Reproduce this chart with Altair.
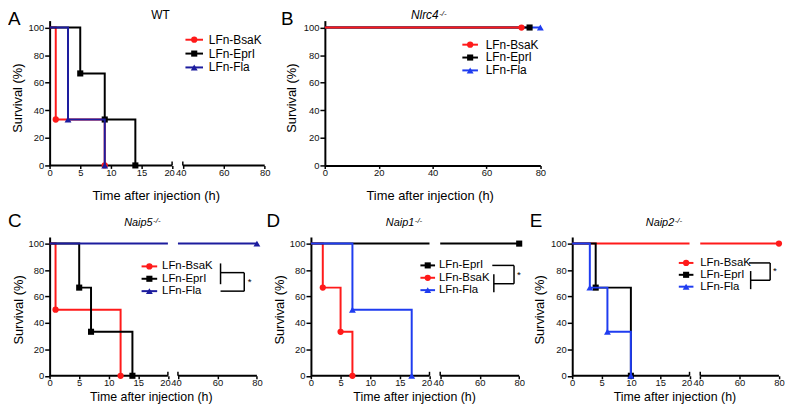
import altair as alt
import pandas as pd

# ---------------- data ----------------
BSAK = "LFn-BsaK"
EPRI = "LFn-EprI"
FLA = "LFn-Fla"

X_TICKS_BROKEN = [0, 5, 10, 15, 20, 40, 60, 80]
X_TICKS_FULL = [0, 20, 40, 60, 80]
Y_TICKS = [0, 20, 40, 60, 80, 100]
AXIS_SEG_START = [0, 40]
AXIS_SEG_END = [20, 80]
BREAK_CAPS = [20, 40]

# A: WT
WT_BSAK_T = [0, 1, 9]
WT_BSAK_S = [100, 33.3, 0]
WT_EPRI_T = [0, 5, 9, 14]
WT_EPRI_S = [100, 66.7, 33.3, 0]
WT_FLA_T = [0, 3, 9]
WT_FLA_S = [100, 33.3, 0]

# B: Nlrc4-/-
NLRC4_BSAK_T = [0, 73]
NLRC4_BSAK_S = [100, 100]
NLRC4_EPRI_T = [0, 76]
NLRC4_EPRI_S = [100, 100]
NLRC4_FLA_T = [0, 80]
NLRC4_FLA_S = [100, 100]

# C: Naip5-/-
NAIP5_BSAK_T = [0, 1, 12]
NAIP5_BSAK_S = [100, 50, 0]
NAIP5_EPRI_T = [0, 5, 7, 14]
NAIP5_EPRI_S = [100, 66.7, 33.3, 0]
NAIP5_FLA_T = [0, 80]
NAIP5_FLA_S = [100, 100]

# D: Naip1-/-
NAIP1_EPRI_T = [0, 80]
NAIP1_EPRI_S = [100, 100]
NAIP1_BSAK_T = [0, 2, 5, 7]
NAIP1_BSAK_S = [100, 66.7, 33.3, 0]
NAIP1_FLA_T = [0, 7, 17]
NAIP1_FLA_S = [100, 50, 0]

# E: Naip2-/-
NAIP2_BSAK_T = [0, 80]
NAIP2_BSAK_S = [100, 100]
NAIP2_EPRI_T = [0, 4, 10]
NAIP2_EPRI_S = [100, 66.7, 0]
NAIP2_FLA_T = [0, 3, 6, 10]
NAIP2_FLA_S = [100, 66.7, 33.3, 0]

# ---------------- styling / layout ----------------
FONT = "Liberation Sans"
RED = "#ff1a1a"
BLACK = "#000000"
NAVY = "#1c1c9e"
BLUE = "#1f3cf0"
SHAPE = {BSAK: ("circle", 40), EPRI: ("square", 38), FLA: ("triangle-up", 48)}

W, H = 788, 399
K = 0.985


def px(rx):
    return rx * K


def py(ry):
    return ry - 3.0


ONE = pd.DataFrame({"k": [0]})


def step_rows(ts, ss, broken):
    rows = []
    seg = 0
    for i, (t, s) in enumerate(zip(ts, ss)):
        if broken and i > 0 and ts[i - 1] <= 20 and t >= 40:
            rows.append({"t": 20, "s": ss[i - 1], "seg": seg})
            seg += 1
            rows.append({"t": 40, "s": ss[i - 1], "seg": seg})
        rows.append({"t": t, "s": s, "seg": seg})
    return pd.DataFrame(rows)


def panel(curves, xref, ybot_ref, ytop_ref, broken):
    xr = [px(v) for v in xref]
    xdom = [0, 20, 40, 80] if broken else [0, 80]
    xs = alt.Scale(domain=xdom, range=xr, nice=False, zero=False)
    ys = alt.Scale(domain=[0, 105], range=[py(ybot_ref), py(ytop_ref)], nice=False, zero=False)
    label_offset = {"condition": [{"test": "datum.value == 20", "value": -3},
                                  {"test": "datum.value == 40", "value": -2}],
                    "value": 0} if broken else 0
    xaxis = alt.Axis(orient="bottom", offset=py(ybot_ref) - H,
                     values=X_TICKS_BROKEN if broken else X_TICKS_FULL,
                     domain=not broken, domainColor="black", domainWidth=2,
                     tickColor="black", tickWidth=1.5, tickSize=3,
                     labelFont=FONT, labelFontSize=9.5, labelColor="#111", labelPadding=-1,
                     labelOffset=label_offset,
                     labelFlush=False, labelOverlap=False, labelBound=False,
                     grid=False, title="", format="d")
    yaxis = alt.Axis(orient="left", offset=-xr[0], values=Y_TICKS,
                     domain=True, domainColor="black", domainWidth=2,
                     tickColor="black", tickWidth=1.5, tickSize=5,
                     labelFont=FONT, labelFontSize=9.5, labelColor="#111", labelPadding=1,
                     labelOverlap=False, labelBound=False,
                     grid=False, title="", format="d")
    layers = []
    seg_df = pd.DataFrame({"a": AXIS_SEG_START if broken else [0],
                           "b": AXIS_SEG_END if broken else [80], "z": 0})
    base_axis = alt.Chart(seg_df).mark_rule(color="black", strokeWidth=2, opacity=1 if broken else 0).encode(
        x=alt.X("a:Q", scale=xs, axis=xaxis),
        x2="b:Q",
        y=alt.Y("z:Q", scale=ys, axis=yaxis),
    )
    layers.append(base_axis)
    if broken:
        cap_df = pd.DataFrame({"c": BREAK_CAPS, "z": 0})
        caps = alt.Chart(cap_df).mark_rule(color="black", strokeWidth=1.5, y2Offset=-4).encode(
            x=alt.X("c:Q", scale=xs, axis=None),
            y=alt.Y("z:Q", scale=ys, axis=None),
            y2="z:Q",
        )
        layers.append(caps)
    for ts, ss, name, color in curves:
        shape, size = SHAPE[name]
        ldf = step_rows(ts, ss, broken)
        line = alt.Chart(ldf).mark_line(interpolate="step-after", color=color, strokeWidth=2).encode(
            x=alt.X("t:Q", scale=xs, axis=None),
            y=alt.Y("s:Q", scale=ys, axis=None),
            detail="seg:N",
        )
        pdf = pd.DataFrame({"t": ts[1:], "s": ss[1:]})
        pts = alt.Chart(pdf).mark_point(shape=shape, size=size, filled=True, color=color, opacity=1).encode(
            x=alt.X("t:Q", scale=xs, axis=None),
            y=alt.Y("s:Q", scale=ys, axis=None),
        )
        layers += [line, pts]
    return layers


def text(label, x, y, size, align="left", baseline="alphabetic", style="normal", angle=0):
    return alt.Chart(ONE).mark_text(text=label, font=FONT, fontSize=size, align=align, baseline=baseline,
                                    fontStyle=style, angle=angle, color="black").encode(
        x=alt.value(px(x)), y=alt.value(py(y)))


def hline(x1, x2, y, w=1.5):
    return alt.Chart(ONE).mark_rule(color="black", strokeWidth=w).encode(
        x=alt.value(px(x1)), x2=alt.value(px(x2)), y=alt.value(py(y)))


def vline(x, y1, y2, w=1.5):
    return alt.Chart(ONE).mark_rule(color="black", strokeWidth=w).encode(
        x=alt.value(px(x)), y=alt.value(py(y1)), y2=alt.value(py(y2)))


def legend(entries, rows_y, x1, x2, tx, fs):
    out = []
    for (name, color), ry in zip(entries, rows_y):
        shape, size = SHAPE[name]
        out.append(alt.Chart(ONE).mark_rule(color=color, strokeWidth=2).encode(
            x=alt.value(px(x1)), x2=alt.value(px(x2)), y=alt.value(py(ry))))
        out.append(alt.Chart(ONE).mark_point(shape=shape, size=size, filled=True, color=color, opacity=1).encode(
            x=alt.value(px((x1 + x2) / 2)), y=alt.value(py(ry))))
        out.append(text(name, tx, ry, fs, baseline="middle"))
    return out


def title(main, supx, base_y, size):
    return [text(main, supx, base_y, size, align="right", style="italic"),
            text("-/-", supx + 0.5, base_y - 3.5, 8, align="left", style="italic")]


layers = []
layers += panel([(WT_BSAK_T, WT_BSAK_S, BSAK, RED), (WT_EPRI_T, WT_EPRI_S, EPRI, BLACK),
                 (WT_FLA_T, WT_FLA_S, FLA, NAVY)],
                [42.7, 168.3, 179.3, 263.3], 160, 13.7, True)
layers += panel([(NLRC4_FLA_T, NLRC4_FLA_S, FLA, BLUE), (NLRC4_EPRI_T, NLRC4_EPRI_S, EPRI, BLACK),
                 (NLRC4_BSAK_T, NLRC4_BSAK_S, BSAK, RED)],
                [325, 546], 160, 13.7, False)
layers += panel([(NAIP5_BSAK_T, NAIP5_BSAK_S, BSAK, RED), (NAIP5_EPRI_T, NAIP5_EPRI_S, EPRI, BLACK),
                 (NAIP5_FLA_T, NAIP5_FLA_S, FLA, NAVY)],
                [42.7, 164, 174.3, 255.3], 372.5, 232.3, True)
layers += panel([(NAIP1_BSAK_T, NAIP1_BSAK_S, BSAK, RED), (NAIP1_EPRI_T, NAIP1_EPRI_S, EPRI, BLACK),
                 (NAIP1_FLA_T, NAIP1_FLA_S, FLA, BLUE)],
                [310.7, 432.3, 443.3, 524.3], 372.5, 232.3, True)
layers += panel([(NAIP2_BSAK_T, NAIP2_BSAK_S, BSAK, RED), (NAIP2_EPRI_T, NAIP2_EPRI_S, EPRI, BLACK),
                 (NAIP2_FLA_T, NAIP2_FLA_S, FLA, BLUE)],
                [578.7, 699, 710, 790.7], 372.5, 232.3, True)

# panel letters
for letter, lx, ly in [("A", 0, 18), ("B", 280, 18), ("C", 0, 222), ("D", 265, 222), ("E", 535, 222)]:
    layers.append(text(letter, lx, ly, 19))
# panel titles
layers.append(text("WT", 156.5, 12.5, 12, align="center"))
layers += title("Nlrc4", 441.7, 12.5, 12)
layers += title("Naip5", 148.3, 221.5, 11)
layers += title("Naip1", 416.7, 221.5, 11)
layers += title("Naip2", 683.3, 221.5, 11)
# axis titles
for cx, cy in [(10, 92), (291.5, 92), (11, 306), (279, 306), (546, 306)]:
    layers.append(text("Survival (%)", cx, cy, 13, align="center", baseline="middle", angle=270))
for cx, cy in [(152, 191), (433, 191)]:
    layers.append(text("Time after injection (h)", cx, cy, 13, align="center", baseline="middle"))
for cx, cy in [(147, 394), (417, 394), (684, 394)]:
    layers.append(text("Time after injection (h)", cx, cy, 12.5, align="center", baseline="middle"))
# legends
layers += legend([(BSAK, RED), (EPRI, BLACK), (FLA, NAVY)], [33, 47, 61], 182, 200, 206, 12)
layers += legend([(BSAK, RED), (EPRI, BLACK), (FLA, BLUE)], [38, 51, 64], 466, 482, 490, 12)
layers += legend([(BSAK, RED), (EPRI, BLACK), (FLA, NAVY)], [262, 274.5, 287], 137, 153, 158, 11.5)
layers += legend([(EPRI, BLACK), (BSAK, RED), (FLA, BLUE)], [261, 273.5, 286], 423, 438, 442, 11.5)
layers += legend([(BSAK, RED), (EPRI, BLACK), (FLA, BLUE)], [258.5, 270.5, 282.5], 688, 703, 710, 11.5)
# significance brackets
layers += [vline(218, 259, 280), hline(218, 242.3, 268.3), vline(242.3, 268.3, 287), hline(218, 242.3, 287),
           text("*", 246, 281, 10)]
layers += [hline(496.7, 519, 261), vline(519, 261, 279.5), vline(498.3, 270, 288), hline(498.3, 519, 279.5),
           text("*", 522, 274, 10)]
layers += [hline(760, 781.7, 258.5), vline(781.7, 258.5, 276), vline(761.7, 266.7, 285), hline(761.7, 781.7, 276),
           text("*", 784.5, 270, 10)]

chart = alt.layer(*layers).resolve_scale(x="independent", y="independent").properties(
    width=W, height=H, autosize=alt.AutoSizeParams(type="none"), padding=0
).configure_view(stroke=None)

chart.save("out.html", embed_options={"renderer": "svg", "actions": False})
